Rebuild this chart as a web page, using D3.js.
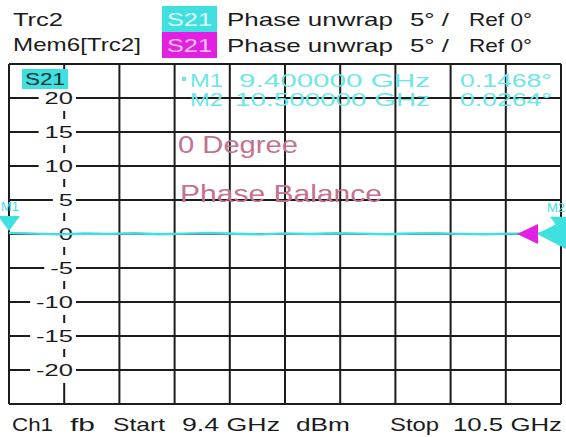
<!DOCTYPE html>
<html>
<head>
<meta charset="utf-8">
<script src="https://cdn.jsdelivr.net/npm/d3@7"></script>
<style>
  body { margin: 0; background: #fff; }
  svg { display: block; font-family: "Liberation Sans", Arial, sans-serif; }
</style>
</head>
<body>
<div id="chart"></div>
<script>
// sweep points (GHz) and unwrapped phase (deg)
var freqs = [9.40, 9.45, 9.50, 9.55, 9.60, 9.65, 9.70, 9.75, 9.80, 9.85, 9.90, 9.95,
             10.00, 10.05, 10.10, 10.15, 10.20, 10.25, 10.30, 10.35, 10.40, 10.45, 10.50];
var trc2Phase = [0.15, 0.05, -0.06, 0.08, 0.02, 0.10, -0.04, 0.06, 0.14, 0.03, -0.05, 0.09,
                 0.00, 0.12, 0.05, -0.03, 0.08, 0.11, 0.02, -0.04, 0.06, 0.09, 0.03];
var mem6Phase = [0.10, 0.02, -0.03, 0.05, 0.00, 0.06, -0.02, 0.04, 0.08, 0.01, -0.02, 0.05,
                 0.01, 0.07, 0.03, -0.01, 0.05, 0.06, 0.01, -0.02, 0.04, 0.05, 0.02];

var markerNames = ["M1", "M2"];
var markerFreqs = [9.4, 10.5];
var markerValues = [0.1468, 0.0264];
var markerFreqLabels = ["9.400000 GHz", "10.500000 GHz"];
var markerValueLabels = ["0.1468\u00b0", "0.0264\u00b0"];

var yTicks = [20, 15, 10, 5, 0, -5, -10, -15, -20];
var traceNames = ["Trc2", "Mem6[Trc2]"];
var footer = ["Ch1", "fb", "Start", "9.4 GHz", "dBm", "Stop", "10.5 GHz"];

var W = 566, H = 437;
var plot = { left: 9, right: 561, top: 64, bottom: 404 };
var cyan = "#3fe0e0", magenta = "#e21fe2", ink = "#1c1c1c", note = "#c6718f";

var svg = d3.select("#chart").append("svg")
  .attr("width", W).attr("height", H);

var x = d3.scaleLinear().domain([9.4, 10.5]).range([plot.left, plot.right]);
var y = d3.scaleLinear().domain([-25, 25]).range([plot.bottom, plot.top]);

// text squeezed/stretched to the width it has on screen
function label(g, s, px, py, size, w, fill, anchor) {
  var t = g.append("text")
    .attr("x", px).attr("y", py)
    .attr("fill", fill)
    .attr("text-anchor", anchor || "start")
    .style("font-size", size + "px")
    .text(s);
  if (w) t.attr("textLength", w).attr("lengthAdjust", "spacingAndGlyphs");
  return t;
}

// header
var head = svg.append("g");
label(head, traceNames[0], 13, 26, 19, 50, ink);
label(head, traceNames[1], 13, 51, 19, 128, ink);
[[cyan, 6], [magenta, 32]].forEach(function(d, i) {
  head.append("rect").attr("x", 162).attr("y", d[1]).attr("width", 55).attr("height", 26).attr("fill", d[0]);
  label(head, "S21", 167, d[1] + 20, 19, 45, i == 0 ? "#e2fbfb" : "#f9c8f9");
  label(head, "Phase unwrap", 227, d[1] + 20, 19, 166, ink);
  label(head, "5\u00b0 /", 410, d[1] + 20, 19, 39, ink);
  label(head, "Ref 0\u00b0", 469, d[1] + 20, 19, 63, ink);
});

// grid, 10 x 10 divisions
var grid = svg.append("g").attr("stroke", ink).attr("stroke-width", 2);
grid.selectAll("line.v")
  .data(d3.range(11))
  .enter().append("line")
  .attr("x1", function(i) { return x(9.4 + i * 0.11); })
  .attr("x2", function(i) { return x(9.4 + i * 0.11); })
  .attr("y1", plot.top).attr("y2", plot.bottom);
grid.selectAll("line.h")
  .data(d3.range(-25, 26, 5))
  .enter().append("line")
  .attr("x1", plot.left).attr("x2", plot.right)
  .attr("y1", function(d) { return y(d); })
  .attr("y2", function(d) { return y(d); });

// y labels sit on the 2nd vertical line with a white patch behind
var yl = svg.append("g");
yTicks.forEach(function(v) {
  var g = yl.append("g");
  var t = label(g, v, 73, y(v) + 6, 17, null, ink, "end");
  var w = t.node().getComputedTextLength() * 1.5;
  t.attr("textLength", w).attr("lengthAdjust", "spacingAndGlyphs");
  g.insert("rect", "text")
    .attr("x", 73 - w - 6).attr("y", y(v) - 13)
    .attr("width", w + 9).attr("height", 26)
    .attr("fill", "#fff");
});

// traces
var line = d3.line()
  .x(function(d, i) { return x(freqs[i]); })
  .y(function(d) { return y(d); });
svg.append("path").datum(mem6Phase)
  .attr("d", line).attr("fill", "none")
  .attr("stroke", magenta).attr("stroke-width", 1.5);
svg.append("path").datum(trc2Phase)
  .attr("d", line).attr("fill", "none")
  .attr("stroke", cyan).attr("stroke-width", 2.4);

// reference arrows at the right edge (memory one shifted left)
svg.append("path")
  .attr("d", "M" + (plot.right - 44) + "," + y(0) + "L" + (plot.right - 23) + "," + (y(0) - 10) + "L" + (plot.right - 23) + "," + (y(0) + 10) + "Z")
  .attr("fill", magenta);
svg.append("path")
  .attr("d", "M" + (plot.right - 24) + "," + y(0) + "L" + (plot.right + 5) + "," + (y(0) - 15) + "L" + (plot.right + 5) + "," + (y(0) + 15) + "Z")
  .attr("fill", cyan);

// markers, labels kept inside the window
var mk = svg.append("g");
markerNames.forEach(function(m, i) {
  var mx = x(markerFreqs[i]), my = y(markerValues[i]) - 2;
  mk.append("path")
    .attr("d", "M" + mx + "," + my + "L" + (mx - 11) + "," + (my - 15) + "L" + (mx + 11) + "," + (my - 15) + "Z")
    .attr("fill", cyan);
  label(mk, m, i == 0 ? 1 : W - 1, my - 20, 13, 18, cyan, i == 0 ? "start" : "end");
});

// in-plot trace tag
svg.append("rect").attr("x", 22).attr("y", 69).attr("width", 46).attr("height", 20).attr("fill", cyan);
label(svg, "S21", 25, 85, 16, 40, "#16302f");

// marker table
var tb = svg.append("g");
tb.append("rect").attr("x", 182).attr("y", 77).attr("width", 4).attr("height", 4).attr("fill", "#6fe6e6");
markerNames.forEach(function(m, i) {
  var by = 87 + i * 19;
  label(tb, m, 190, by, 18, 33, "#6fe6e6");
  label(tb, markerFreqLabels[i], 430, by, 18, i == 0 ? 191 : 195, "#6fe6e6", "end");
  label(tb, markerValueLabels[i], 552, by, 18, 92, "#6fe6e6", "end");
});

// annotations
label(svg, "0 Degree", 178, 153, 23, 120, note);
label(svg, "Phase Balance", 180, 202, 23, 202, note);

// footer
var fx = [12, 70, 113, 182, 296, 390, 453];
var fw = [41, 25, 52, 98, 54, 49, 109];
footer.forEach(function(s, i) {
  label(svg, s, fx[i], 431, 19, fw[i], ink);
});
</script>
</body>
</html>
